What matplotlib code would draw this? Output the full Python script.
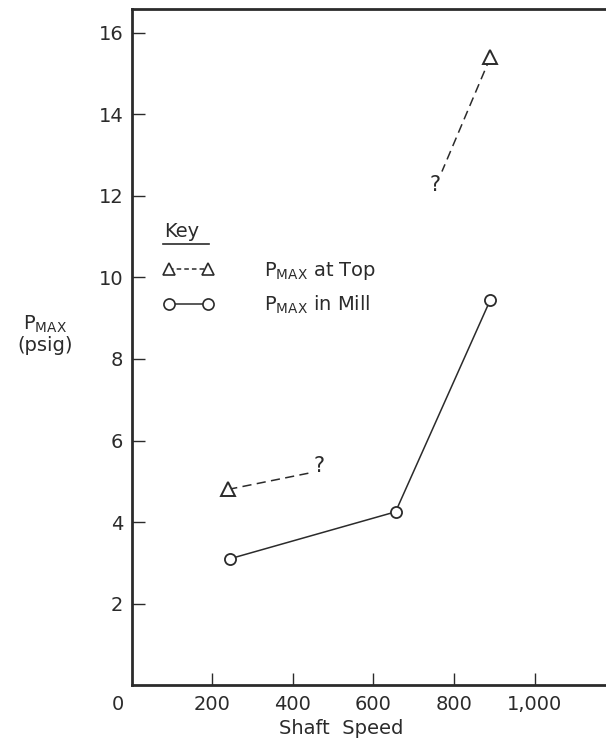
"""Peak pressure versus shaft speed, top of vessel and in the mill."""

import matplotlib
matplotlib.use("Agg")
import matplotlib.pyplot as plt
from matplotlib.lines import Line2D
from matplotlib.transforms import offset_copy

# Data
mill_speed = [245, 655, 890]
mill_pmax = [3.1, 4.25, 9.45]

top_speed = [240, 890]
top_pmax = [4.8, 15.4]
# uncertain ends of the dashed lines (marked with "?")
top_guess_speed = [450, 770]
top_guess_pmax = [5.22, 12.6]
question_speed = [465, 752]
question_pmax = [5.38, 12.27]

x_ticks = [0, 200, 400, 600, 800, 1000]
x_tick_labels = ["0", "200", "400", "600", "800", "1,000"]
y_ticks = [2, 4, 6, 8, 10, 12, 14, 16]

ink = "#2b2b2b"
plt.rcParams["font.family"] = ["DejaVu Sans"]
plt.rcParams["font.size"] = 14

fig = plt.figure(figsize=(6.06, 7.42), dpi=100)
ax = fig.add_axes([0.217, 0.0768, 0.793, 0.9117])

# P_MAX in mill
ax.plot(mill_speed, mill_pmax, color=ink, lw=1.1, marker="o", ms=8,
        mfc="white", mec=ink, mew=1.3, zorder=3)

# P_MAX at top: two dashed pieces that end in a question mark
for i in range(2):
    ax.plot([top_speed[i], top_guess_speed[i]], [top_pmax[i], top_guess_pmax[i]],
            color=ink, lw=1.1, dashes=(6, 3.5), zorder=2)
    ax.plot(top_speed[i], top_pmax[i], marker="^", ms=10, mfc="white",
            mec=ink, mew=1.4, ls="none", zorder=3)
    ax.text(question_speed[i], question_pmax[i], "?", color=ink, fontsize=15,
            ha="center", va="center")

ax.set_xlim(0, 1192)
ax.set_ylim(0, 16.6)
ax.set_xticks(x_ticks)
ax.set_xticklabels(x_tick_labels)
ax.set_yticks(y_ticks)
ax.set_yticklabels([str(v) for v in y_ticks])
ax.tick_params(direction="in", length=9, width=1.0, color=ink,
               labelcolor=ink, labelsize=14)
ax.tick_params(axis="x", pad=7)
ax.tick_params(axis="y", pad=6)

# the "0" sits in the corner, left of the origin
zero_label = ax.get_xticklabels()[0]
zero_label.set_transform(offset_copy(zero_label.get_transform(), fig=fig,
                                     x=-14, y=0, units="dots"))
ax.xaxis.get_major_ticks()[0].tick1line.set_visible(False)

for side in ["left", "bottom", "top"]:
    ax.spines[side].set_linewidth(2.0)
    ax.spines[side].set_color(ink)
ax.spines["right"].set_visible(False)

ax.set_xlabel("Shaft  Speed", color=ink, fontsize=14)
ax.xaxis.set_label_coords(0.437, -0.0636)
ax.xaxis.label.set_va("center")
ax.set_ylabel("P$_{\\mathrm{MAX}}$\n(psig)", color=ink, fontsize=14,
              rotation=0, ha="center", va="center", linespacing=1.1)
ax.yaxis.set_label_coords(-0.18, 0.518)

# Key
ax.text(0.0676, 0.670, "Key", transform=ax.transAxes, color=ink,
        fontsize=14, ha="left", va="center")
ax.plot([0.0656, 0.161], [0.652, 0.652], transform=ax.transAxes,
        color=ink, lw=1.2, clip_on=False)
handles = [
    Line2D([], [], color=ink, lw=1.1, dashes=(3, 2), marker="^", ms=8,
           mfc="white", mec=ink, mew=1.2),
    Line2D([], [], color=ink, lw=1.1, marker="o", ms=8,
           mfc="white", mec=ink, mew=1.2),
]
labels = ["P$_{\\mathrm{MAX}}$ at Top", "P$_{\\mathrm{MAX}}$ in Mill"]
leg = ax.legend(handles, labels, loc="upper left",
                bbox_to_anchor=(0.066, 0.628), frameon=False, numpoints=2,
                handlelength=2.6, handletextpad=2.6, labelspacing=0.6,
                borderpad=0, borderaxespad=0, fontsize=14)
for t in leg.get_texts():
    t.set_color(ink)

fig.savefig("out.png", dpi=100, facecolor="white")
